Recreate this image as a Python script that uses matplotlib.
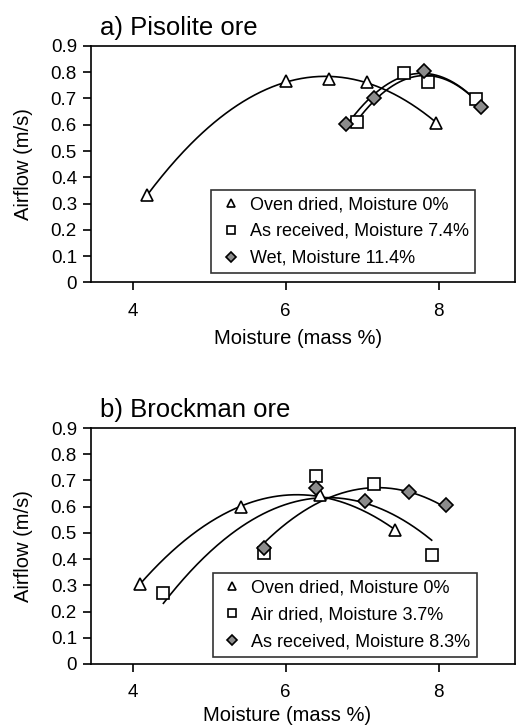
import numpy as np
import matplotlib
matplotlib.use('Agg')
import matplotlib.pyplot as plt

plt.rcParams['font.family'] = ['Liberation Sans', 'DejaVu Sans']

# a) Pisolite ore
pis_oven_x = [4.19, 6.00, 6.57, 7.07, 7.97]
pis_oven_y = [0.333, 0.767, 0.774, 0.764, 0.608]
pis_recv_x = [6.93, 7.55, 7.86, 8.49]
pis_recv_y = [0.609, 0.796, 0.762, 0.697]
pis_wet_x = [6.79, 7.16, 7.81, 8.56]
pis_wet_y = [0.603, 0.701, 0.806, 0.669]
pis_labels = ['Oven dried, Moisture 0%', 'As received, Moisture 7.4%',
              'Wet, Moisture 11.4%']

# b) Brockman ore
bro_oven_x = [4.09, 5.42, 6.45, 7.43]
bro_oven_y = [0.305, 0.597, 0.645, 0.510]
bro_air_x = [4.40, 5.72, 6.40, 7.15, 7.91]
bro_air_y = [0.270, 0.425, 0.718, 0.687, 0.414]
bro_recv_x = [5.72, 6.40, 7.04, 7.61, 8.10]
bro_recv_y = [0.442, 0.670, 0.622, 0.656, 0.606]
bro_labels = ['Oven dried, Moisture 0%', 'Air dried, Moisture 3.7%',
              'As received, Moisture 8.3%']

STYLES = [
    dict(marker='^', mfc='white', mec='black', ms=8),
    dict(marker='s', mfc='white', mec='black', ms=8),
    dict(marker='D', mfc='#8c8c8c', mec='black', ms=7),
]


def draw_panel(ax, series, labels, title, legend_anchor, xlabel_xy):
    for (x, y), lab, st in zip(series, labels, STYLES):
        x = np.asarray(x)
        y = np.asarray(y)
        # quadratic trend line
        coef = np.polyfit(x, y, 2)
        xs = np.linspace(x.min(), x.max(), 200)
        ax.plot(xs, np.polyval(coef, xs), color='black', lw=1.2, zorder=2)
        ax.plot(x, y, ls='none', mew=1.2, label=lab, zorder=3, **st)

    ax.set_xlim(3.45, 9.0)
    ax.set_ylim(0, 0.9)
    ax.set_xticks([4, 6, 8])
    ax.set_yticks(np.arange(0, 0.91, 0.1))
    ax.set_yticklabels(['0'] + [f'{v:.1f}' for v in np.arange(0.1, 0.91, 0.1)])
    ax.tick_params(direction='out', length=6, width=1.2, labelsize=13.5)
    ax.tick_params(axis='x', pad=8.5)
    ax.tick_params(axis='y', pad=4)
    for sp in ax.spines.values():
        sp.set_linewidth(1.2)
    ax.set_xlabel('Moisture (mass %)', fontsize=14.5)
    ax.xaxis.set_label_coords(*xlabel_xy)
    ax.set_ylabel('Airflow (m/s)', fontsize=14.5, labelpad=12.5)
    ax.text(0.021, 1.025, title, transform=ax.transAxes, fontsize=18.5,
            ha='left', va='bottom')
    leg = ax.legend(loc='lower right', bbox_to_anchor=legend_anchor,
                    borderaxespad=0, fontsize=13.0, frameon=True, fancybox=False,
                    edgecolor='black', markerscale=0.78, handlelength=1.5,
                    handletextpad=0.3, borderpad=0.35, labelspacing=0.55)
    leg.get_frame().set_linewidth(1.2)


fig = plt.figure(figsize=(5.16, 7.28), dpi=100)
ax1 = fig.add_axes([0.176, 0.612, 0.822, 0.325])
ax2 = fig.add_axes([0.176, 0.088, 0.822, 0.324])

draw_panel(ax1, [(pis_oven_x, pis_oven_y), (pis_recv_x, pis_recv_y),
                 (pis_wet_x, pis_wet_y)],
           pis_labels, 'a) Pisolite ore', (0.906, 0.039), (0.489, -0.198))
draw_panel(ax2, [(bro_oven_x, bro_oven_y), (bro_air_x, bro_air_y),
                 (bro_recv_x, bro_recv_y)],
           bro_labels, 'b) Brockman ore', (0.910, 0.030), (0.4625, -0.178))

fig.savefig('out.png', dpi=100)
